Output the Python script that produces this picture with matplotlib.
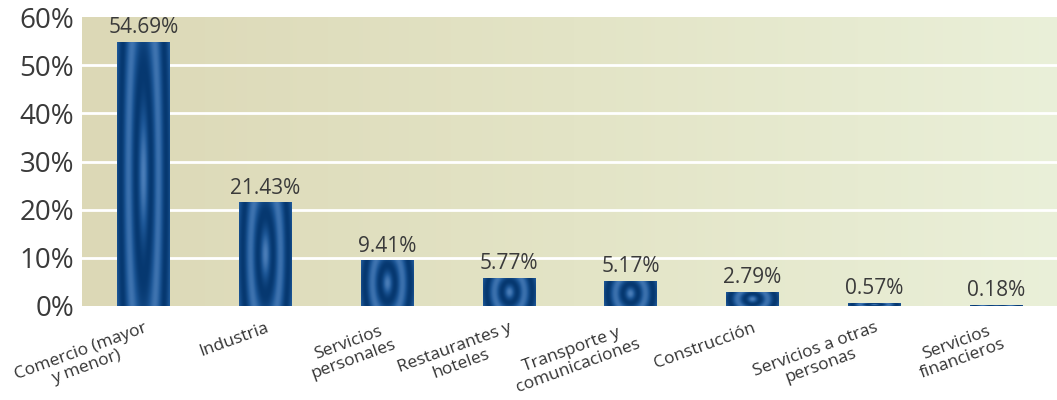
import numpy as np
import matplotlib
matplotlib.use('Agg')
import matplotlib.pyplot as plt
from matplotlib.colors import LinearSegmentedColormap

plt.rcParams['font.family'] = ['Open Sans', 'DejaVu Sans']

categories = ['Comercio (mayor\ny menor)', 'Industria', 'Servicios\npersonales',
              'Restaurantes y\nhoteles', 'Transporte y\ncomunicaciones', 'Construcción',
              'Servicios a otras\npersonas', 'Servicios\nfinancieros']
values = [54.69, 21.43, 9.41, 5.77, 5.17, 2.79, 0.57, 0.18]
labels = ['54.69%', '21.43%', '9.41%', '5.77%', '5.17%', '2.79%', '0.57%', '0.18%']
yticks = [0, 10, 20, 30, 40, 50, 60]

fig = plt.figure(figsize=(10.57, 4), dpi=100)
ax = fig.add_axes([0.078, 0.235, 0.93, 0.7225])

# background gradient, tan on the left to pale green on the right
bg = LinearSegmentedColormap.from_list('bg', ['#dcd8b6', '#e3e4c6', '#eaf0d9'])
grad = np.linspace(0, 1, 256).reshape(1, -1)
ax.imshow(grad, cmap=bg, extent=[0, 1, 0, 1], transform=ax.transAxes,
          aspect='auto', zorder=0)

# bars with a ring pattern
barcm = LinearSegmentedColormap.from_list('bar', ['#063870', '#1d5797', '#4a7db8'])
w = 0.43
for i, v in enumerate(values):
    ny, nx = 200, 60
    xx, yy = np.meshgrid(np.linspace(-1, 1, nx), np.linspace(-1, 1, ny))
    r = np.sqrt((xx * 1.2) ** 2 + (yy * 0.45) ** 2)
    pat = 0.5 + 0.5 * np.cos(r * 9)
    pat = pat * (1 - 0.3 * np.abs(xx))
    ax.imshow(pat, cmap=barcm, extent=[i - w / 2, i + w / 2, 0, v],
              aspect='auto', zorder=2, interpolation='bilinear')
    ax.annotate(labels[i], (i, v), xytext=(0, 3), textcoords='offset points',
                ha='center', va='bottom', fontsize=15, color='#3a3a3a', zorder=4)

for t in yticks[1:-1]:
    ax.axhline(t, color='white', lw=2, zorder=1)

ax.set_xlim(-0.5, 7.57)
ax.set_ylim(0, 60)
ax.set_yticks(yticks)
ax.set_yticklabels([f'{t}%' for t in yticks], fontsize=20, color='#3a3a3a')
ax.set_xticks(range(len(categories)))
ax.set_xticklabels(categories, rotation=20, ha='right', rotation_mode='anchor',
                   multialignment='center', fontsize=12.5, color='#333333',
                   linespacing=1.1)
ax.tick_params(length=0, pad=6)
ax.tick_params(axis='x', pad=10)
for s in ax.spines.values():
    s.set_visible(False)

fig.savefig('out.png', dpi=100)
